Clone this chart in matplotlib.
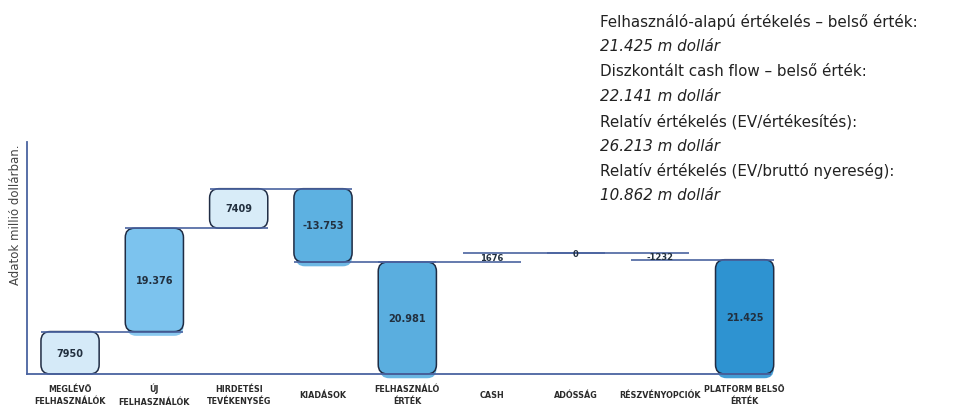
import matplotlib
matplotlib.use("Agg")
import matplotlib.pyplot as plt
from matplotlib.patches import FancyBboxPatch

categories = ["MEGLÉVŐ\nFELHASZNÁLÓK", "ÚJ\nFELHASZNÁLÓK", "HIRDETÉSI\nTEVÉKENYSÉG",
              "KIADÁSOK", "FELHASZNÁLÓ\nÉRTÉK", "CASH", "ADÓSSÁG",
              "RÉSZVÉNYOPCIÓK", "PLATFORM BELSŐ\nÉRTÉK"]
values = [7950, 19376, 7409, -13753, 20981, 1676, 0, -1232, 21425]
labels = ["7950", "19.376", "7409", "-13.753", "20.981", "1676", "0", "-1232", "21.425"]
is_total = [False, False, False, False, True, False, False, False, True]
colors = ["#d5eaf8", "#7cc3ee", "#d8ecf8", "#5db1e1", "#5aaedf", None, None, None, "#2e93d1"]

notes = [
    ("Felhasználó-alapú értékelés – belső érték:", "normal"),
    ("21.425 m dollár", "italic"),
    ("Diszkontált cash flow – belső érték:", "normal"),
    ("22.141 m dollár", "italic"),
    ("Relatív értékelés (EV/értékesítés):", "normal"),
    ("26.213 m dollár", "italic"),
    ("Relatív értékelés (EV/bruttó nyereség):", "normal"),
    ("10.862 m dollár", "italic"),
]

# waterfall geometry
bottoms, tops, ends = [], [], []
level = 0
for v, tot in zip(values, is_total):
    if tot:
        b, t = 0, v
        level = v
    else:
        b, t = min(level, level + v), max(level, level + v)
        level += v
    bottoms.append(b)
    tops.append(t)
    ends.append(level)

fig = plt.figure(figsize=(9.66, 4.10), dpi=100)
ax = fig.add_axes([0.028, 0.0854, 0.769, 0.566])
ax.set_xlim(-0.51, 8.3)
ax.set_ylim(0, 43500)

line_c = "#4a63a0"
edge_c = "#1f2c44"
width = 0.69
x = list(range(len(categories)))

bars = ax.bar(x, [t - b for t, b in zip(tops, bottoms)], bottom=bottoms,
              width=width, alpha=0)

# aspect for rounded corners in data units
fig.canvas.draw()
p0 = ax.transData.transform((0, 0))
p1 = ax.transData.transform((1, 1000))
mut_aspect = ((p1[0] - p0[0]) / (p1[1] - p0[1])) * 1000

for i, r in enumerate(bars):
    if colors[i] is None:
        continue
    bx, by, bw, bh = r.get_x(), r.get_y(), r.get_width(), r.get_height()
    style = "round,pad=0,rounding_size=0.11"
    if colors[i] not in ("#d5eaf8", "#d8ecf8"):
        sh = FancyBboxPatch((bx + 0.02, by - 800), bw - 0.02, bh, boxstyle=style,
                            mutation_aspect=mut_aspect, fc=colors[i], ec="none",
                            alpha=0.9, zorder=2, clip_on=False)
        ax.add_patch(sh)
    box = FancyBboxPatch((bx, by), bw, bh, boxstyle=style,
                         mutation_aspect=mut_aspect, fc=colors[i], ec=edge_c,
                         lw=1.1, zorder=3, clip_on=False)
    ax.add_patch(box)

# connector lines
for i in range(len(categories) - 1):
    ax.hlines(ends[i], x[i] - width / 2, x[i + 1] + width / 2, color=line_c,
              lw=1.2, zorder=4, clip_on=False)

narrow = ["Liberation Sans Narrow", "DejaVu Sans"]
for i in x:
    mid = (bottoms[i] + tops[i]) / 2
    big = colors[i] is not None
    ax.text(i, mid, labels[i], ha="center", va="center",
            fontsize=7 if big else 6, fontweight="bold", family=narrow,
            color="#22303f", zorder=5)
    ax.text(i, -3800, categories[i], ha="center", va="center", fontsize=5.8,
            fontweight="bold", family=narrow, color="#2a2a2a", linespacing=1.5,
            clip_on=False)

for s in ["top", "right"]:
    ax.spines[s].set_visible(False)
for s in ["left", "bottom"]:
    ax.spines[s].set_color(line_c)
    ax.spines[s].set_linewidth(1.3)
ax.spines["bottom"].set_zorder(4)
ax.set_xticks([])
ax.set_yticks([])

fig.text(0.016, 0.476, "Adatok millió dollárban.", rotation=90, ha="center",
         va="center", fontsize=8.5, color="#444444")

for k, (t, st) in enumerate(notes):
    fig.text(0.621, 0.946 - k * 0.0605, t, fontsize=10.9, style=st, color="#222222",
             ha="left", va="center")

fig.savefig("out.png", dpi=100)
